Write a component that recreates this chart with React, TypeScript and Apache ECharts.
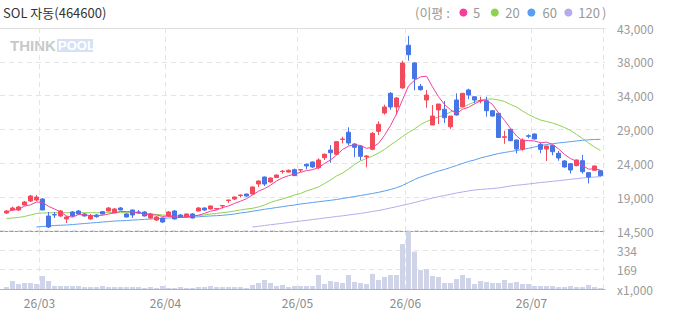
import React, { useEffect, useRef } from 'react';
import * as echarts from 'echarts';

const FONT = '"Noto Sans CJK KR", "Noto Sans", sans-serif';

const title = 'SOL 자동(464600)';
const legendLead = '(이평 :';
const legendLabels = ['5', '20', '60', '120'];
const maColors = ['#f2409a', '#8fd24e', '#5a9ef2', '#b3acef'];
const upColor = '#f24b5b';
const downColor = '#4676e6';
const volColor = '#cfd4e8';

const priceTicks = ['14,500', '19,000', '24,000', '29,000', '34,000', '38,000', '43,000'];
const volTicks = ['x1,000', '169', '334', ''];

const dates = [
  '26/02/20', '26/02/23', '26/02/24', '26/02/25', '26/02/26', '26/02/27',
  '26/03/03', '26/03/04', '26/03/05', '26/03/06', '26/03/09', '26/03/10', '26/03/11', '26/03/12', '26/03/13',
  '26/03/16', '26/03/17', '26/03/18', '26/03/19', '26/03/20', '26/03/23', '26/03/24', '26/03/25', '26/03/26',
  '26/03/27', '26/03/30', '26/03/31',
  '26/04/01', '26/04/02', '26/04/03', '26/04/06', '26/04/07', '26/04/08', '26/04/09', '26/04/10', '26/04/13',
  '26/04/14', '26/04/15', '26/04/16', '26/04/17', '26/04/20', '26/04/21', '26/04/22', '26/04/23', '26/04/24',
  '26/04/27', '26/04/28', '26/04/29', '26/04/30',
  '26/05/04', '26/05/06', '26/05/07', '26/05/08', '26/05/11', '26/05/12', '26/05/13', '26/05/14', '26/05/15',
  '26/05/18', '26/05/19', '26/05/20', '26/05/21', '26/05/22', '26/05/26', '26/05/27', '26/05/28', '26/05/29',
  '26/06/01', '26/06/02', '26/06/04', '26/06/05', '26/06/08', '26/06/09', '26/06/10', '26/06/11', '26/06/12',
  '26/06/15', '26/06/16', '26/06/17', '26/06/18', '26/06/19', '26/06/22', '26/06/23', '26/06/24', '26/06/25',
  '26/06/26', '26/06/29', '26/06/30',
  '26/07/01', '26/07/02', '26/07/03', '26/07/06', '26/07/07', '26/07/08', '26/07/09', '26/07/10', '26/07/13',
  '26/07/14', '26/07/15', '26/07/16',
];

const opens = [
  17030, 17450, 17450, 18150, 18710, 18850, 18990, 16610, 16800, 16610,
  16190, 17170, 17310, 16890, 16190, 16750, 17210, 17310, 17030, 17730,
  16890, 17450, 17170, 17170, 16330, 16040, 16330, 16610, 17310, 16750,
  16470, 16890, 17310, 17730, 17590, 17590, 18010, 18780, 18990, 19480,
  19690, 19690, 21100, 22080, 21380, 22010, 22840, 22780, 23110, 23060,
  23870, 24190, 23390, 24790, 25870, 25270, 27350, 28360, 26710, 26430,
  24890, 25970, 28490, 31070, 33830, 31910, 34580, 40570, 38090, 34810,
  32890, 29380, 31490, 31590, 29140, 32890, 31950, 34300, 33350, 32750,
  32790, 31390, 31020, 27650, 28780, 27280, 25970, 27880, 28120, 26670,
  26010, 26530, 25410, 24330, 23950, 23670, 24370, 22690, 23020, 22970,
];
const closes = [
  17310, 17730, 17870, 18570, 19410, 19270, 17450, 15060, 16750, 17310,
  16470, 16610, 16890, 16610, 16650, 16510, 16890, 17730, 17590, 17450,
  16470, 16750, 17030, 16610, 16890, 16470, 15760, 17170, 16190, 16470,
  16890, 16330, 17730, 17450, 18010, 17660, 18080, 18850, 19270, 19550,
  19410, 20680, 21520, 21100, 21940, 22360, 22900, 23020, 22270, 23110,
  23630, 23490, 24470, 25270, 25490, 27040, 27420, 26850, 26250, 24990,
  25030, 28210, 29480, 31910, 31910, 33170, 38090, 39250, 35880, 34340,
  33590, 30640, 32330, 30410, 30640, 30790, 33830, 33590, 32890, 32800,
  31390, 30640, 27630, 27740, 27180, 26010, 27280, 27790, 27420, 25970,
  26430, 25630, 24750, 23490, 23060, 24470, 22830, 22080, 23630, 22260,
];
const highs = [
  17450, 17920, 18010, 18710, 19550, 19550, 19130, 17170, 17170, 17450,
  16610, 17310, 17450, 17030, 16890, 16890, 17310, 17870, 17730, 17870,
  17030, 17500, 17450, 17310, 17030, 16610, 16400, 17310, 17450, 16890,
  16960, 17030, 17870, 17800, 18080, 17730, 18150, 18920, 19340, 19620,
  19760, 20750, 21590, 22150, 22010, 22430, 23060, 23130, 23270, 23200,
  23950, 24260, 24710, 25380, 26570, 27140, 27740, 29060, 26850, 26570,
  25170, 28400, 29900, 32230, 34010, 33310, 38410, 41880, 38230, 35140,
  34300, 32190, 32330, 32750, 30640, 33830, 33870, 34480, 33380, 33350,
  33350, 31490, 31100, 28580, 28820, 27350, 27510, 28080, 28190, 26900,
  26500, 26600, 25730, 24470, 24040, 24540, 25170, 22760, 23700, 23060,
];
const lows = [
  16890, 17310, 17310, 18100, 18570, 18710, 17450, 14920, 16330, 16470,
  15620, 16470, 16750, 16540, 16090, 16370, 16820, 17240, 17030, 17400,
  16400, 16330, 16960, 16540, 16190, 15900, 15620, 16470, 16120, 16400,
  16400, 16250, 17240, 17310, 17520, 17520, 17660, 18430, 18850, 19200,
  19340, 19620, 20680, 20820, 21310, 21940, 22550, 22710, 22220, 22780,
  23160, 23350, 23200, 24470, 24090, 25170, 26810, 26530, 24850, 24430,
  23440, 25830, 27980, 30830, 31530, 30830, 34480, 38410, 34250, 34200,
  31810, 29380, 29520, 29660, 28860, 30690, 31880, 32990, 32430, 32430,
  30550, 30550, 27560, 26740, 27100, 25400, 25770, 27510, 27350, 25410,
  24330, 25130, 24370, 23400, 22570, 23600, 22570, 21170, 22950, 22150,
];

const volumes = [
  17, 69, 43, 52, 52, 43, 112, 69, 26, 26,
  26, 26, 26, 17, 17, 17, 26, 17, 17, 17,
  17, 17, 17, 9, 17, 9, 26, 9, 9, 17,
  9, 9, 17, 17, 26, 17, 17, 17, 17, 17,
  9, 35, 52, 78, 52, 26, 35, 17, 26, 26,
  26, 26, 121, 43, 69, 61, 52, 121, 61, 52,
  43, 130, 78, 104, 121, 121, 388, 498, 322, 164,
  173, 112, 104, 52, 52, 86, 121, 95, 43, 69,
  61, 52, 52, 78, 52, 61, 43, 43, 26, 26,
  26, 26, 17, 17, 26, 17, 17, 35, 17, 9,
];

// 5-day MA for the first days (earlier closes are off the chart)
const ma5Head = [17170, 17450, 17540, 17990];

const ma20 = [
  16260, 16330, 16400, 16540, 16750, 16960, 17030, 17050, 17060, 17070,
  17070, 17080, 17080, 17070, 17070, 17060, 17070, 17080, 17090, 17080,
  17070, 17060, 17040, 17030, 16890, 16820, 16750, 16680, 16650, 16610,
  16610, 16610, 16680, 16750, 16890, 16960, 17070, 17170, 17310, 17450,
  17590, 17690, 17870, 18150, 18500, 18780, 18990, 19270, 19550, 19770,
  20120, 20400, 20680, 21170, 21660, 22220, 22640, 23200, 23840, 24330,
  24680, 25030, 25450, 25940, 26570, 27140, 27770, 28330, 28820, 29450,
  29870, 30220, 30510, 30790, 31210, 31490, 31840, 32260, 32610, 32890,
  33030, 33030, 32890, 32680, 32260, 31910, 31350, 30860, 30440, 30080,
  29870, 29660, 29380, 29030, 28610, 28050, 27490, 26860, 26290, 25800,
];

const ma60Start = 5;
const ma60 = [
  15060, 15130, 15200, 15270, 15310,
  15340, 15410, 15480, 15550, 15620, 15690, 15760, 15830, 15900, 15930,
  15970, 16040, 16070, 16140, 16180, 16230, 16260, 16330, 16370, 16400,
  16420, 16470, 16490, 16560, 16610, 16650, 16700, 16790, 16890, 17030,
  17130, 17270, 17410, 17550, 17660, 17800, 17910, 18050, 18150, 18290,
  18390, 18500, 18610, 18710, 18810, 18920, 19060, 19200, 19340, 19480,
  19620, 19770, 19930, 20120, 20330, 20580, 20890, 21310, 21730, 22080,
  22360, 22640, 22920, 23130, 23420, 23700, 23980, 24260, 24470, 24750,
  24960, 25170, 25380, 25520, 25660, 25800, 25940, 26110, 26290, 26480,
  26640, 26760, 26860, 26950, 27040, 27140, 27230, 27300, 27350, 27370,
];

const ma120Start = 41;
const ma120 = [
  15060, 15160, 15270, 15380, 15480, 15580, 15690, 15800, 15900,
  16000, 16110, 16210, 16330, 16420, 16540, 16630, 16750, 16860, 16960,
  17100, 17240, 17380, 17550, 17730, 17910, 18110, 18290, 18500, 18710,
  18920, 19130, 19320, 19480, 19650, 19840, 19980, 20120, 20260, 20330,
  20400, 20470, 20540, 20680, 20820, 20920, 21000, 21100, 21200, 21310,
  21380, 21480, 21560, 21660, 21760, 21840, 21940, 22010, 22080, 22120,
];

const ma5 = closes.map((_, i) => {
  if (i < 4) return ma5Head[i];
  let s = 0;
  for (let k = i - 4; k <= i; k++) s += closes[k];
  return Math.round(s / 5);
});
const pad = (start: number, arr: number[]) =>
  (new Array(start).fill('-') as (number | string)[]).concat(arr);

const isMonthStart = dates.map((d, i) => i > 0 && d.slice(0, 5) !== dates[i - 1].slice(0, 5));

const GRID_LEFT = 3.5;
const GRID_RIGHT = 69.5;
const BG_RIGHT = 68;
const PRICE_TOP = 28;
const PRICE_H = 203;
const VOL_TOP = 230.5;
const VOL_H = 58.5;

const dashLight = { color: '#e4e4e4', type: [5, 4] as number[], width: 1 };

function buildOption() {
  const catAxis = (grid: number, showLabel: boolean) => ({
    type: 'category',
    gridIndex: grid,
    data: dates,
    boundaryGap: true,
    axisLine: { show: false },
    axisTick: { show: false },
    axisLabel: {
      show: showLabel,
      interval: (idx: number) => isMonthStart[idx],
      formatter: (v: string) => v.slice(0, 5),
      color: '#8a8a8a',
      fontSize: 12,
      fontFamily: FONT,
      margin: 7,
      padding: [0, 6, 0, 0],
    },
    splitLine: {
      show: true,
      interval: (idx: number) => isMonthStart[idx],
      lineStyle: dashLight,
    },
  });

  const graphics: any[] = [
    {
      type: 'text', x: 3, y: 12.5,
      style: { text: title, fill: '#333', font: `13px ${FONT}`, verticalAlign: 'middle' },
    },
    {
      type: 'text', x: 415, y: 12.5,
      style: { text: legendLead, fill: '#999', font: `13px ${FONT}`, verticalAlign: 'middle' },
    },
    {
      type: 'text', x: 602, y: 12.5,
      style: { text: ')', fill: '#999', font: `13px ${FONT}`, verticalAlign: 'middle' },
    },
    // watermark
    {
      type: 'text', x: 10, y: 45.5,
      style: { text: 'THINK', fill: '#c9c9c9', font: `bold 15px "Liberation Sans", sans-serif`, verticalAlign: 'middle' },
    },
    {
      type: 'rect', shape: { x: 57, y: 39, width: 36, height: 13 },
      style: { fill: '#d6e1f6' },
    },
    {
      type: 'text', x: 58, y: 45.5,
      style: { text: 'POOL', fill: '#ffffff', font: `bold 13px "Liberation Sans", sans-serif`, verticalAlign: 'middle' },
    },
  ];
  const dotX = [463.4, 494.8, 531.4, 568.4];
  const labX = [472.9, 505.2, 542.6, 578.2];
  legendLabels.forEach((lab, k) => {
    graphics.push({
      type: 'circle', shape: { cx: dotX[k], cy: 12.5, r: 4 },
      style: { fill: maColors[k] },
    });
    graphics.push({
      type: 'text', x: labX[k], y: 12.5,
      style: { text: lab, fill: '#999', font: `13px ${FONT}`, verticalAlign: 'middle' },
    });
  });

  return {
    animation: false,
    backgroundColor: '#ffffff',
    textStyle: { fontFamily: FONT },
    grid: [
      { left: GRID_LEFT, right: GRID_RIGHT, top: PRICE_TOP, height: PRICE_H },
      { left: GRID_LEFT, right: GRID_RIGHT, top: VOL_TOP, height: VOL_H },
      { left: 0, right: BG_RIGHT, top: PRICE_TOP, height: PRICE_H },
      { left: 0, right: BG_RIGHT, top: VOL_TOP, height: VOL_H },
    ],
    xAxis: [
      catAxis(0, false),
      catAxis(1, true),
      {
        type: 'value', gridIndex: 2, min: 0, max: 1, position: 'bottom',
        axisLine: { show: true, lineStyle: { color: '#9a9a9a', type: [3, 2], width: 1 } },
        axisTick: { show: false }, axisLabel: { show: false }, splitLine: { show: false },
      },
      {
        type: 'value', gridIndex: 2, min: 0, max: 1, position: 'top',
        axisLine: { show: true, lineStyle: { color: '#dedede', width: 1 } },
        axisTick: { show: false }, axisLabel: { show: false }, splitLine: { show: false },
      },
      {
        type: 'value', gridIndex: 3, min: 0, max: 1, position: 'bottom',
        axisLine: { show: true, lineStyle: { color: '#b4b4b4', width: 1 } },
        axisTick: { show: false }, axisLabel: { show: false }, splitLine: { show: false },
      },
    ],
    yAxis: [
      { type: 'value', gridIndex: 0, min: 14500, max: 43000, show: false },
      { type: 'value', gridIndex: 1, min: 0, max: 505, show: false },
      {
        type: 'value', gridIndex: 2, min: 0, max: 6, interval: 1, position: 'right',
        axisLine: { show: false }, axisTick: { show: false },
        splitLine: { show: true, lineStyle: dashLight },
        axisLabel: {
          formatter: (v: number) => priceTicks[Math.round(v)],
          color: '#9a9a9a', fontSize: 12, fontFamily: FONT, margin: 12,
          showMinLabel: true, showMaxLabel: true,
        },
      },
      {
        type: 'value', gridIndex: 3, min: 0, max: 3, interval: 1, position: 'right',
        axisLine: { show: false }, axisTick: { show: false },
        splitLine: { show: true, lineStyle: dashLight },
        axisLabel: {
          formatter: (v: number) => volTicks[Math.round(v)],
          color: '#9a9a9a', fontSize: 12, fontFamily: FONT, margin: 12,
          showMinLabel: true, showMaxLabel: true,
        },
      },
    ],
    series: [
      {
        type: 'bar', xAxisIndex: 1, yAxisIndex: 1, data: volumes,
        barWidth: 5, itemStyle: { color: volColor }, silent: true,
      },
      {
        type: 'line', xAxisIndex: 0, yAxisIndex: 0, data: pad(ma120Start, ma120),
        symbol: 'none', lineStyle: { color: maColors[3], width: 1 }, silent: true, z: 3,
      },
      {
        type: 'line', xAxisIndex: 0, yAxisIndex: 0, data: pad(ma60Start, ma60),
        symbol: 'none', lineStyle: { color: maColors[2], width: 1 }, silent: true, z: 3,
      },
      {
        type: 'line', xAxisIndex: 0, yAxisIndex: 0, data: ma20,
        symbol: 'none', lineStyle: { color: maColors[1], width: 1 }, silent: true, z: 3,
      },
      {
        type: 'candlestick', xAxisIndex: 0, yAxisIndex: 0,
        data: opens.map((o, i) => [o, closes[i], lows[i], highs[i]]),
        barWidth: 5,
        itemStyle: {
          color: upColor, color0: downColor,
          borderColor: upColor, borderColor0: downColor, borderWidth: 1,
        },
        silent: true, z: 4,
      },
      {
        type: 'line', xAxisIndex: 0, yAxisIndex: 0, data: ma5,
        symbol: 'none', lineStyle: { color: maColors[0], width: 1 }, silent: true, z: 5,
      },
    ],
    graphic: graphics,
  };
}

export default function App() {
  const ref = useRef<HTMLDivElement>(null);
  useEffect(() => {
    document.body.style.margin = '0';
    const chart = echarts.init(ref.current as HTMLDivElement, undefined, { renderer: 'svg' });
    chart.setOption(buildOption() as any);
    return () => chart.dispose();
  }, []);
  return (
    <div
      ref={ref}
      style={{ width: 673, height: 315, position: 'absolute', left: 0, top: 0, background: '#fff' }}
    />
  );
}
